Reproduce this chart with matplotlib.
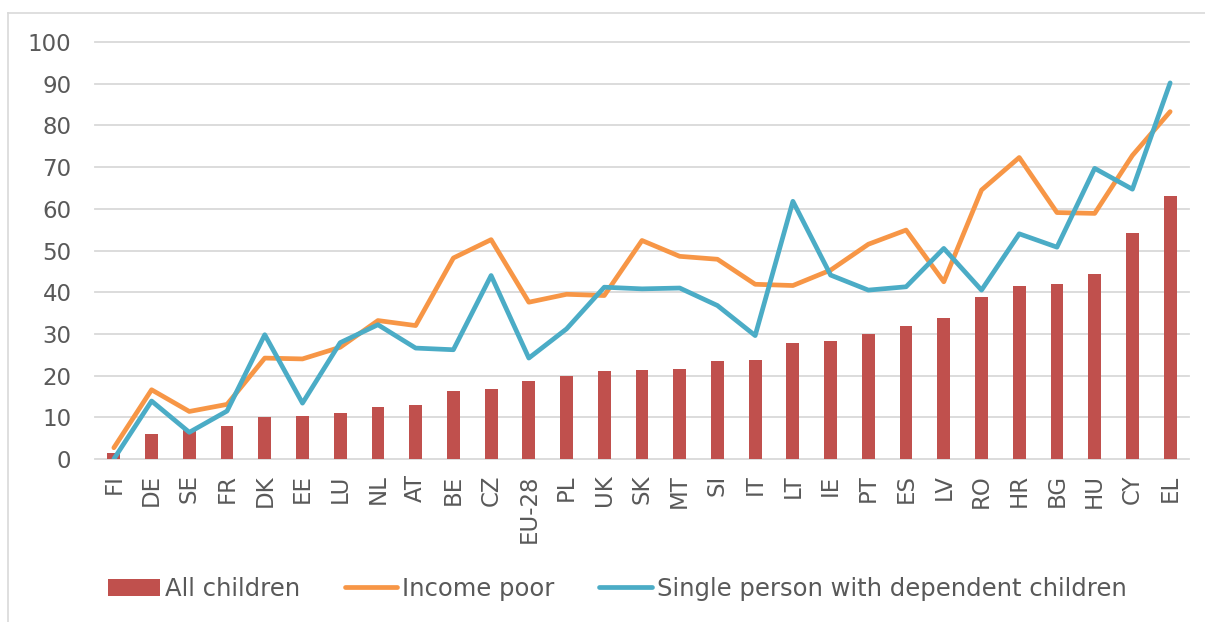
import matplotlib.pyplot as plt
import numpy as np

# Countries, sorted by share of all children
countries = ['FI', 'DE', 'SE', 'FR', 'DK', 'EE', 'LU', 'NL', 'AT', 'BE', 'CZ', 'EU-28', 'PL', 'UK',
             'SK', 'MT', 'SI', 'IT', 'LT', 'IE', 'PT', 'ES', 'LV', 'RO', 'HR', 'BG', 'HU', 'CY', 'EL']

all_children = [1.4, 5.9, 7.0, 7.9, 10.0, 10.3, 11.0, 12.4, 13.0, 16.3, 16.8, 18.8, 19.8, 21.0,
                21.4, 21.6, 23.4, 23.8, 27.8, 28.3, 29.9, 31.9, 33.9, 38.9, 41.6, 42.0, 44.4, 54.3, 63.1]

income_poor = [2.7, 16.6, 11.4, 13.1, 24.2, 24.0, 26.8, 33.2, 32.0, 48.2, 52.6, 37.6, 39.5, 39.2,
               52.4, 48.6, 47.9, 41.9, 41.6, 45.3, 51.5, 54.9, 42.5, 64.5, 72.3, 59.1, 58.9, 72.8, 83.3]

single_parent = [0.0, 13.9, 6.4, 11.5, 29.8, 13.4, 27.9, 32.2, 26.6, 26.2, 44.0, 24.2, 31.2, 41.2,
                 40.8, 41.0, 36.8, 29.6, 61.8, 44.1, 40.5, 41.3, 50.5, 40.5, 54.0, 50.8, 69.7, 64.7, 90.2]

text_col = '#595959'
plt.rcParams['font.family'] = 'DejaVu Sans'

fig = plt.figure(figsize=(12.05, 6.22), dpi=100)
ax = fig.add_axes([95 / 1205, 1 - 459 / 622, (1189 - 95) / 1205, (459 - 42) / 622])

x = np.arange(len(countries))
bars = ax.bar(x, all_children, width=0.34, color='#C0504D', zorder=2)
l1, = ax.plot(x, income_poor, color='#F79646', lw=3.4, zorder=3,
              solid_joinstyle='round', solid_capstyle='round')
l2, = ax.plot(x, single_parent, color='#4BACC6', lw=3.4, zorder=4,
              solid_joinstyle='round', solid_capstyle='round')

ax.set_xlim(-0.5, len(countries) - 0.5)
ax.set_ylim(0, 100)
ax.set_yticks(range(0, 101, 10))
ax.set_xticks(x)
ax.set_xticklabels(countries, rotation=90, va='top', ha='center')
ax.tick_params(axis='y', length=0, pad=17, labelsize=16.5, labelcolor=text_col)
ax.tick_params(axis='x', length=0, pad=11, labelsize=16.5, labelcolor=text_col)
ax.grid(axis='y', color='#D9D9D9', lw=1.3, zorder=0)
ax.set_axisbelow(True)
for gl in ax.get_ygridlines():
    gl.set_clip_on(False)
for s in ax.spines.values():
    s.set_visible(False)

# light frame round the chart area
fig.add_artist(plt.Line2D([8 / 1205, 8 / 1205], [0, 1 - 13 / 622], color='#D9D9D9', lw=1.2))
fig.add_artist(plt.Line2D([8 / 1205, 1], [1 - 13 / 622, 1 - 13 / 622], color='#D9D9D9', lw=1.2))

fig.legend([bars, l1, l2], ['All children', 'Income poor', 'Single person with dependent children'],
           loc='center', bbox_to_anchor=(617 / 1205, 1 - 589 / 622), ncol=3, frameon=False,
           fontsize=17.5, labelcolor=text_col, handlelength=2.15, handletextpad=0.2,
           columnspacing=1.85)

fig.savefig('out.png', dpi=100)
